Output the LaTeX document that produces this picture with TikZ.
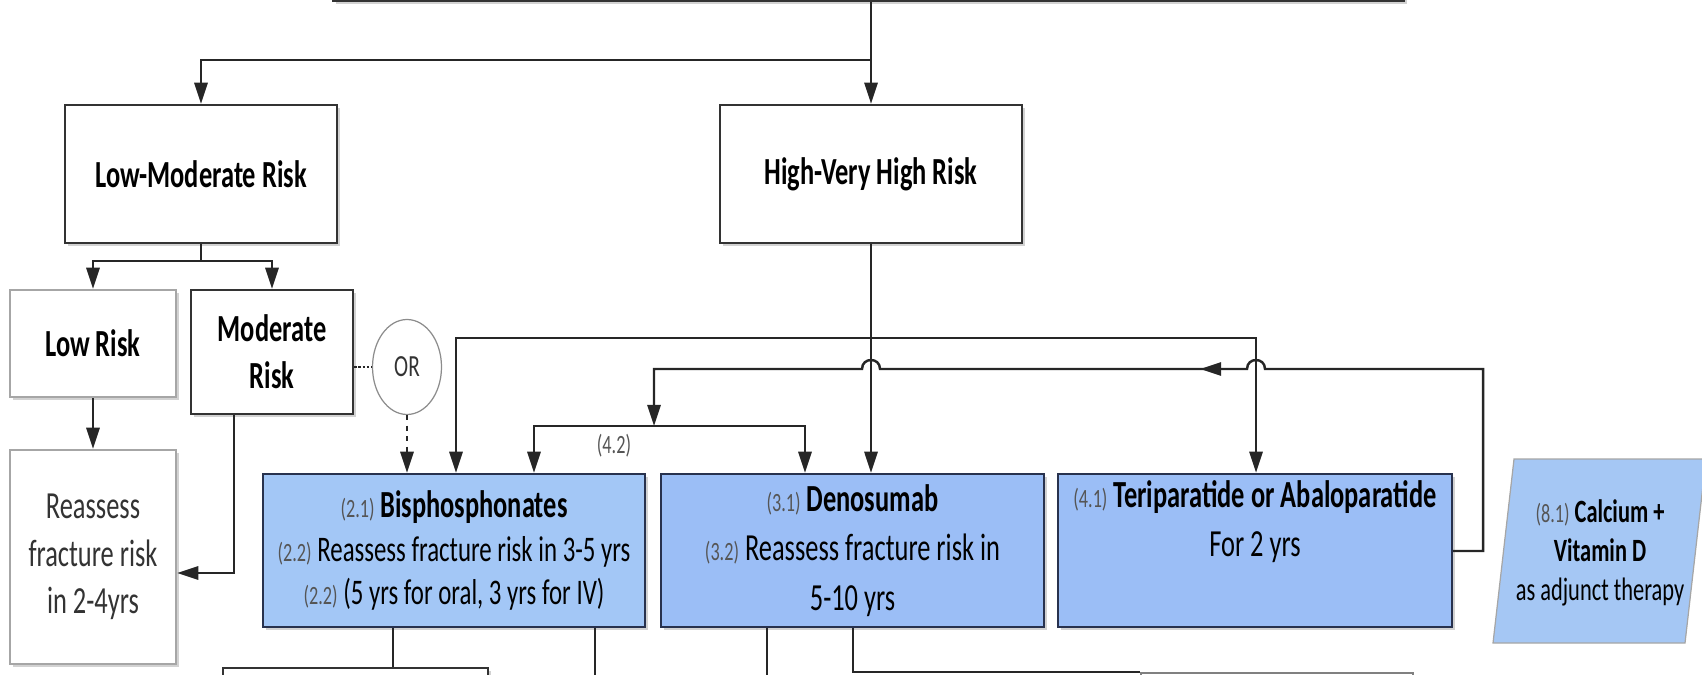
\documentclass[tikz,border=0pt]{standalone}
\usepackage{fontspec}
\setmainfont{Carlito}[FakeStretch=0.69]
\usetikzlibrary{arrows.meta,shadows,shapes.geometric}
\definecolor{bisblue}{RGB}{163,199,246}
\definecolor{denblue}{RGB}{155,190,246}
\definecolor{calblue}{RGB}{165,199,244}
\definecolor{boxline}{RGB}{40,50,78}
\definecolor{lblgray}{RGB}{85,85,85}
\newcommand{\lbl}[1]{{\fontsize{15}{15}\selectfont\color{lblgray}#1}}
\tikzset{
  wbox/.style={draw=black!80, line width=1.4pt, fill=white, align=center, inner sep=2pt,
    drop shadow={shadow xshift=1.6pt, shadow yshift=-1.6pt, fill=black!35}},
  lbox/.style={wbox, draw=black!35},
  bbox/.style={wbox, draw=boxline},
  link/.style={draw=black!85, line width=1.4pt},
  arr/.style={link, -{Triangle[length=12pt,width=7.5pt]}}
}
\begin{document}
\begin{tikzpicture}[x=0.02cm,y=-0.02cm,font=\fontsize{21.8}{27}\selectfont]
  \useasboundingbox (0,0) rectangle (1702,675);
  % risk levels
  \node[wbox, minimum width=21.42cm, minimum height=2cm, anchor=south] (top) at (868.5,2) {};
  \node[wbox, minimum width=5.44cm, minimum height=2.76cm] (lowmod) at (201,174) {\textbf{Low-Moderate Risk}};
  \node[wbox, minimum width=6.04cm, minimum height=2.76cm] (high) at (871,174) {\textbf{High-Very High Risk}};
  \node[lbox, minimum width=3.32cm, minimum height=2.14cm] (low) at (93,343.5) {\textbf{Low Risk}};
  \node[wbox, minimum width=3.24cm, minimum height=2.48cm, font=\fontsize{21.8}{26.6}\selectfont] (mod) at (272,352) {\textbf{Moderate}\\\textbf{Risk}};
  \node[lbox, minimum width=3.32cm, minimum height=4.28cm, text=black!80] (reass) at (93,557) {Reassess\\fracture risk\\in 2-4yrs};
  \node[draw=black!45, line width=0.7pt, ellipse, minimum width=1.38cm, minimum height=1.9cm, inner sep=0pt,
    font=\fontsize{17.5}{17.5}\selectfont, text=black!80] (orn) at (407,367) {OR};
  % treatments
  \node[bbox, fill=bisblue, minimum width=7.64cm, minimum height=3.06cm, font=\fontsize{20.5}{25}\selectfont] (bis) at (454,550.5)
    {\lbl{(2.1)} {\fontsize{21.8}{25}\selectfont\textbf{Bisphosphonates}}\\
     \lbl{(2.2)} Reassess fracture risk in 3-5 yrs\\
     \lbl{(2.2)} (5 yrs for oral, 3 yrs for IV)};
  \node[bbox, fill=denblue, minimum width=7.66cm, minimum height=3.06cm, font=\fontsize{21.8}{28}\selectfont] (deno) at (852.5,550.5)
    {\lbl{(3.1)} \textbf{Denosumab}\\ \lbl{(3.2)} Reassess fracture risk in\\ 5-10 yrs};
  \node[bbox, fill=denblue, minimum width=7.88cm, minimum height=3.06cm, font=\fontsize{21.8}{28}\selectfont] (teri) at (1255,550.5)
    {\lbl{(4.1)} \textbf{Teriparatide or Abaloparatide}\\ For 2 yrs\\ \strut};
  \draw[draw=black!35, line width=0.7pt, fill=calblue] (1493,643) -- (1514,459) -- (1706,459) -- (1685,643) -- cycle;
  \node[align=center, font=\fontsize{18.5}{22}\selectfont] (calc) at (1600,553)
    {\lbl{(8.1)} \textbf{Calcium +}\\ \textbf{Vitamin D}\\ as adjunct therapy};
  \node[wbox, anchor=north, minimum width=5.3cm, minimum height=2cm] (nexta) at (355.5,667) {};
  \node[lbox, draw=black!50, anchor=north west, minimum width=5.44cm, minimum height=2cm] (nextb) at (1140,672) {};
  % junctions
  \coordinate (jtop) at (871,60);
  \coordinate (jlow) at (201,261);
  \coordinate (jhigh) at (871,338);
  \coordinate (jloop) at (1483,369);
  \coordinate (jret) at (654,369);
  \coordinate (jsw) at (654,426);
  % connectors
  \draw[arr] (high.north |- top.south) -- (high.north);
  \draw[arr] (jtop) -| (lowmod.north);
  \draw[link] (lowmod.south) -- (jlow);
  \draw[arr] (jlow) -| (low.north);
  \draw[arr] (jlow) -| (mod.north);
  \draw[arr] (low.south) -- (reass.north);
  \draw[arr] (mod.south -| 234,0) |- (reass.east |- 0,573);
  \draw[link, densely dotted] (orn.west -| mod.east) -- (orn.west);
  \draw[arr, dashed] (orn.south) -- (orn.south |- bis.north);
  \draw[arr] (high.south) -- (high.south |- deno.north);
  \draw[arr] (jhigh) -| (bis.north -| 456,0);
  \draw[arr] (jhigh) -| (teri.north -| 1256,0);
  \draw[arr] (teri.east |- 0,551) -| (jloop) -- (1265,369) .. controls (1265,357) and (1247,357) .. (1247,369)
    -- (880,369) .. controls (880,357) and (862,357) .. (862,369) -- (jret) -- (jsw);
  \draw[arr] (1230,369) -- (1200,369);
  \draw[arr] (jsw) -| (bis.north -| 534,0);
  \draw[arr] (jsw) -| (deno.north -| 805,0);
  \node[font=\fontsize{15}{15}\selectfont, text=lblgray] (lbl42) at (614,446) {(4.2)};
  % follow-up
  \draw[link] (bis.south -| 393,0) -- (nexta.north -| 393,0);
  \draw[link] (bis.south -| 595,0) -- (595,700);
  \draw[link] (deno.south -| 767,0) -- (767,700);
  \draw[link] (deno.south -| 853,0) |- (nextb.north west);
\end{tikzpicture}
\end{document}
